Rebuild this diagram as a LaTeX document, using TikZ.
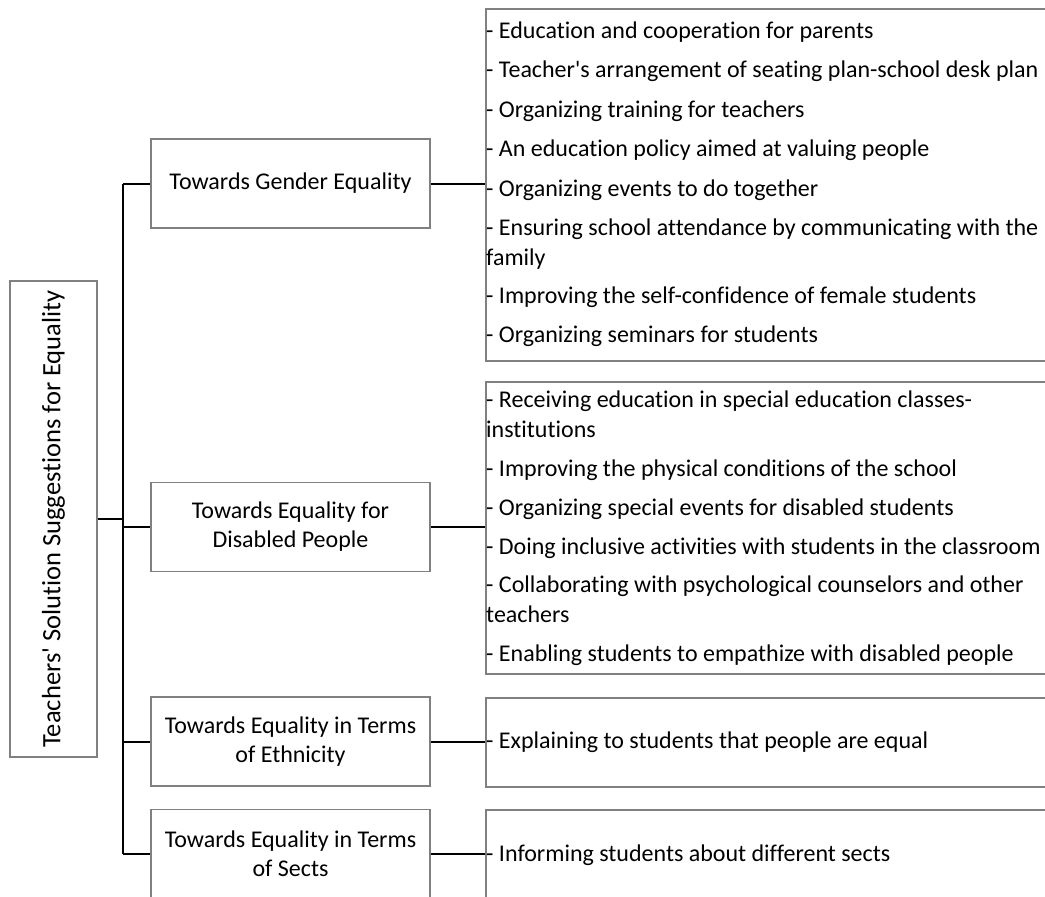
\documentclass[tikz,border=0pt]{standalone}
\usepackage{fontspec}
\setmainfont{Carlito}[Ligatures={TeXOff,NoCommon}]
\usepackage{graphicx}
\definecolor{boxgray}{gray}{0.5}
\begin{document}
\begin{tikzpicture}[x=1pt,y=-1pt,
  box/.style={draw=boxgray, line width=1.5pt, inner sep=0pt},
  catbox/.style={box, minimum width=279pt, minimum height=89pt, align=center,
    font=\fontsize{24}{29}\selectfont},
  listbox/.style={box, minimum width=620pt, anchor=north west},
  item/.style={anchor=base west, inner sep=0pt, align=left,
    font=\fontsize{24}{29.5}\selectfont},
  link/.style={line width=2pt, black}]
\clip (0,0) rectangle (1045,897);

% root box with vertical title
\node[box, minimum width=87pt, minimum height=476pt, font=\fontsize{26.5}{30}\selectfont]
  (root) at (53.5,519) {\rotatebox{90}{Teachers' Solution Suggestions for Equality}};

% category boxes
\node[catbox] (gender)   at (290.5,183.5) {Towards Gender Equality};
\node[catbox] (disabled) at (290.5,527)   {Towards Equality for\\Disabled People};
\node[catbox] (ethnic)   at (290.5,741.5) {Towards Equality in Terms\\of Ethnicity};
\node[catbox] (sects)    at (290.5,854)   {Towards Equality in Terms\\of Sects};

% suggestion boxes
\node[listbox, minimum height=352pt] (genderlist)   at (485,8)   {};
\node[listbox, minimum height=292pt] (disabledlist) at (485,381) {};
\node[listbox, minimum height=89pt]  (ethniclist)   at (485,697) {};
\node[listbox, minimum height=90pt]  (sectslist)    at (485,809) {};

% gender suggestions (wrapped items sit on the baseline of their last line)
\node[item] (g1) at (486,38)    {- Education and cooperation for parents};
\node[item] (g2) at (486,77.5)  {- Teacher's arrangement of seating plan-school desk plan};
\node[item] (g3) at (486,117)   {- Organizing training for teachers};
\node[item] (g4) at (486,156.5) {- An education policy aimed at valuing people};
\node[item] (g5) at (486,196)   {- Organizing events to do together};
\node[item] (g6) at (486,265)   {- Ensuring school attendance by communicating with the\\family};
\node[item] (g7) at (486,303.5) {- Improving the self-confidence of female students};
\node[item] (g8) at (486,342.5) {- Organizing seminars for students};

% disability suggestions
\node[item] (d1) at (486,437) {- Receiving education in special education classes-\\institutions};
\node[item] (d2) at (486,476) {- Improving the physical conditions of the school};
\node[item] (d3) at (486,515) {- Organizing special events for disabled students};
\node[item] (d4) at (486,554) {- Doing inclusive activities with students in the classroom};
\node[item] (d5) at (486,622) {- Collaborating with psychological counselors and other\\teachers};
\node[item] (d6) at (486,661) {- Enabling students to empathize with disabled people};

% ethnicity and sects suggestions
\node[item] (e1) at (486,748) {- Explaining to students that people are equal};
\node[item] (s1) at (486,861) {- Informing students about different sects};

% tree connectors
\coordinate (trunk) at (123,0);
\draw[link] (root.east) -- (root.east -| trunk);
\draw[link] (trunk |- gender.west) -- (trunk |- sects.west);
\foreach \n in {gender,disabled,ethnic,sects}{
  \draw[link] (trunk |- \n.west) -- (\n.west);
  \draw[link] (\n.east) -- (\n.east -| \n list.west);
}
\end{tikzpicture}
\end{document}
